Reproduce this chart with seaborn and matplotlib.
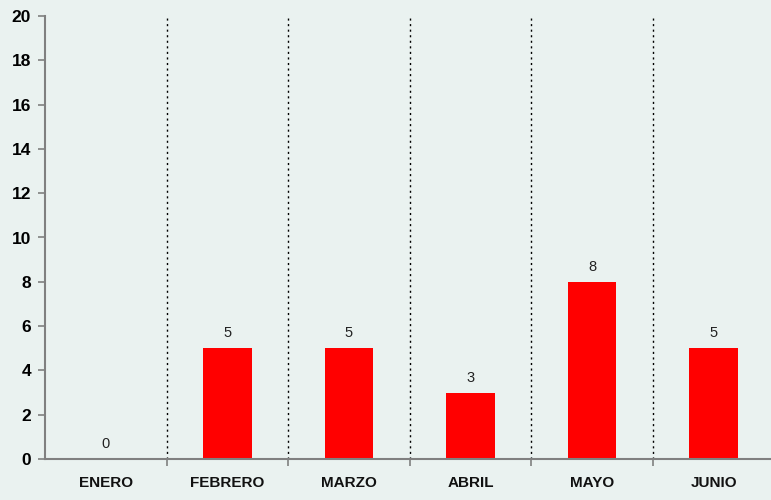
import matplotlib
matplotlib.use("Agg")
import matplotlib.pyplot as plt
import seaborn as sns
import numpy as np
import pandas as pd

months = ["ENERO", "FEBRERO", "MARZO", "ABRIL", "MAYO", "JUNIO"]
values = [0, 5, 5, 3, 8, 5]
yticks = list(range(0, 21, 2))

sns.set_style("white")
plt.rcParams['font.family'] = ['Liberation Sans', 'DejaVu Sans']

bg = "#EAF2F0"
fig = plt.figure(figsize=(7.71, 5.0), dpi=100, facecolor=bg)
ax = fig.add_axes([0.0584, 0.082, 0.946, 0.886])
ax.set_facecolor(bg)

df = pd.DataFrame({"mes": months, "valor": values})
sns.barplot(data=df, x="mes", y="valor", color="#FF0000", width=0.4,
            saturation=1, linewidth=0, ax=ax)

ax.set_xlim(-0.5, len(months) - 0.5)
ax.set_ylim(0, 20)
ax.set_yticks(yticks)
ax.set_yticklabels([str(t) for t in yticks], fontsize=12.5, fontweight="bold", color="black")
ax.set_xticks(range(len(months)))
ax.set_xticklabels(months, fontsize=11, fontweight="bold", color="#111111")
ax.tick_params(axis="x", which="major", length=0, pad=12, bottom=True)
ax.set_xticks(np.arange(0.5, len(months) - 0.5, 1), minor=True)
ax.tick_params(axis="x", which="minor", length=5, color="#808080", width=1.2,
               direction="out", bottom=True)
ax.tick_params(axis="y", length=5, color="#808080", width=1.2, direction="out",
               pad=5, left=True)

for xb in np.arange(0.5, len(months) - 0.5, 1):
    ax.axvline(xb, color="black", linestyle=(0, (1.5, 2.5)), linewidth=1)

for i, v in enumerate(values):
    ax.text(i, v + 0.35, str(v), ha="center", va="bottom", fontsize=10.5, color="#222222")

ax.set_xlabel("")
ax.set_ylabel("")
for s in ["top", "right"]:
    ax.spines[s].set_visible(False)
for s in ["left", "bottom"]:
    ax.spines[s].set_color("#808080")
    ax.spines[s].set_linewidth(1.5)

fig.savefig("out.png", dpi=100, facecolor=bg)
